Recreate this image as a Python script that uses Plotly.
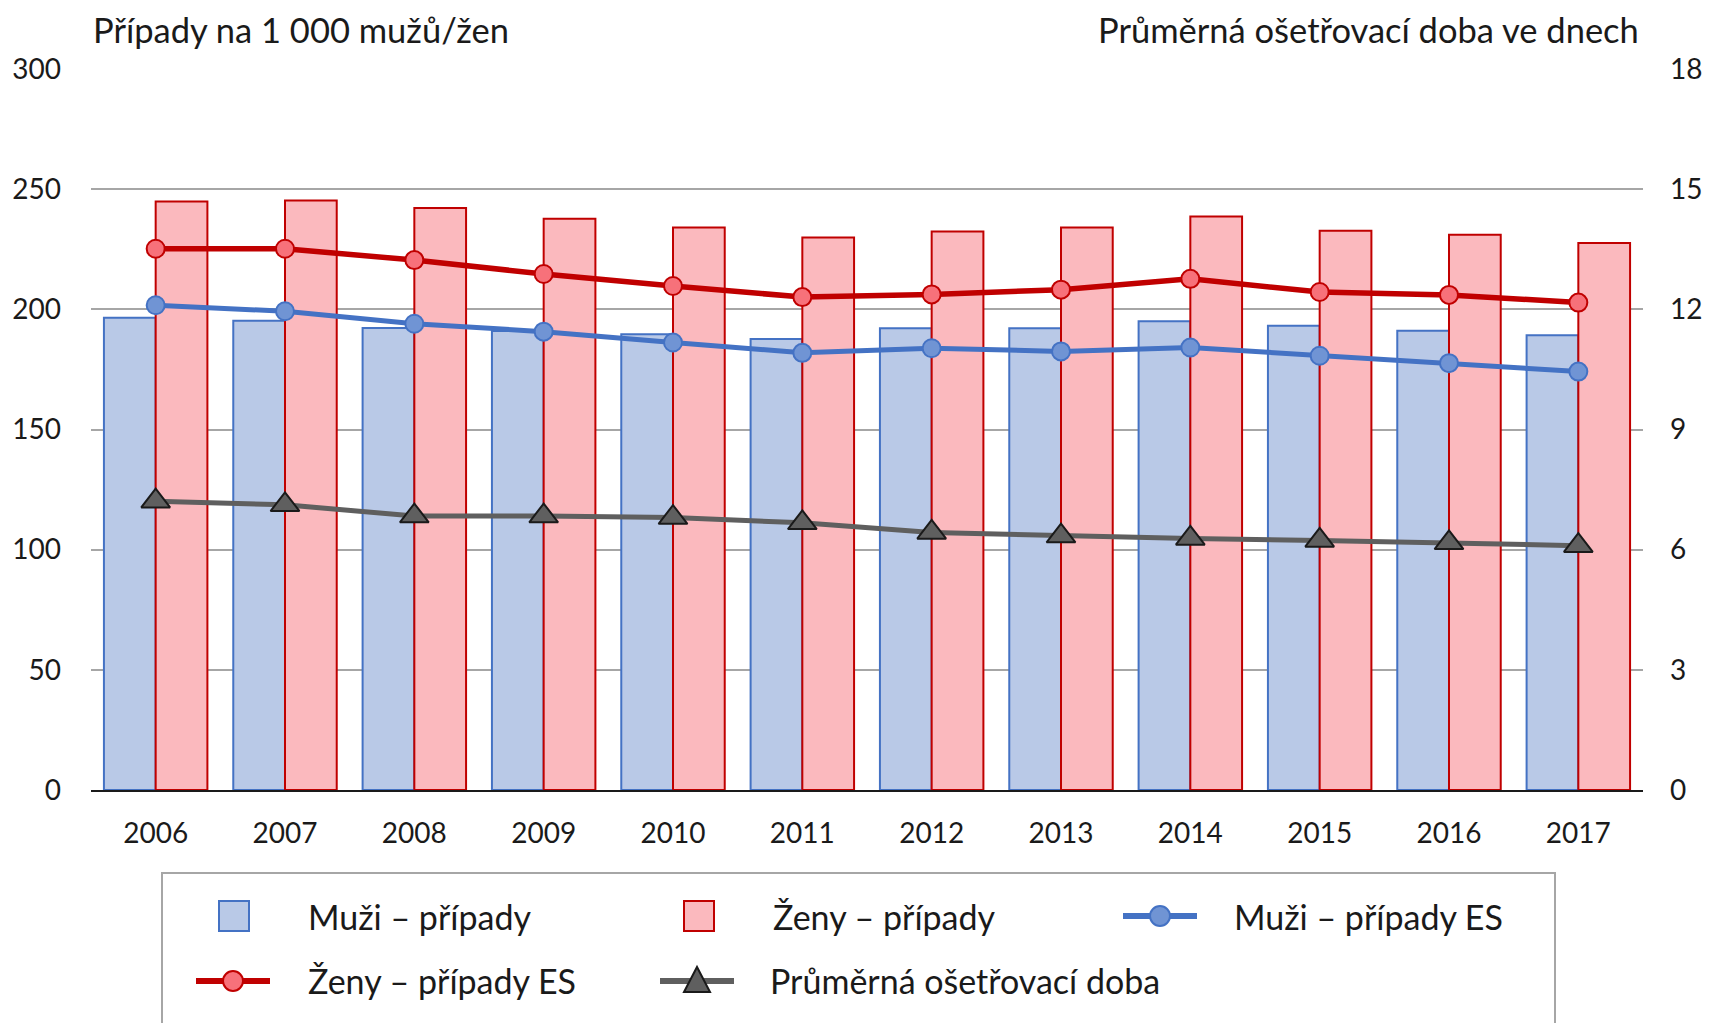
import plotly.graph_objects as go

# data
years = ['2006', '2007', '2008', '2009', '2010', '2011',
         '2012', '2013', '2014', '2015', '2016', '2017']
muzi_pripady = [196.5, 195.3, 192.2, 191.0, 189.6, 187.7, 192.1, 192.1, 195.0, 193.2, 191.1, 189.2]
zeny_pripady = [244.9, 245.3, 242.2, 237.7, 234.0, 229.9, 232.4, 234.1, 238.6, 232.7, 231.0, 227.6]
muzi_es = [201.7, 199.2, 194.0, 190.7, 186.2, 181.9, 183.8, 182.5, 184.1, 180.7, 177.6, 174.1]
zeny_es = [225.2, 225.2, 220.5, 214.7, 209.7, 205.1, 206.2, 208.2, 212.7, 207.2, 206.0, 202.8]
doba = [7.21, 7.12, 6.84, 6.84, 6.80, 6.67, 6.43, 6.34, 6.28, 6.23, 6.17, 6.10]

FONT = 'Lato'
TXT = '#1a1a1a'
W, H = 1723, 1023
OFF = 8  # the html body adds an 8px margin around the figure
ML, MR, MT, MB = 83, 88, 61, 241

BLUE, BLUE_FILL, BLUE_MK = '#4472c4', '#b9c9e7', '#7094d4'
RED, RED_FILL, RED_MK = '#c00000', '#fbb9be', '#f7717a'
GREY, DARK = '#5f5f5f', '#1a1a1a'


def px(x):
    """pixel x on the page -> paper x"""
    return (x - OFF - ML) / (W - ML - MR)


def py(y):
    """pixel y on the page -> paper y"""
    return (H - MB - (y - OFF)) / (H - MT - MB)


fig = go.Figure()

fig.add_trace(go.Bar(
    x=years, y=muzi_pripady, name='Muži – případy',
    marker=dict(color=BLUE_FILL, line=dict(color=BLUE, width=2))
))
fig.add_trace(go.Bar(
    x=years, y=zeny_pripady, name='Ženy – případy',
    marker=dict(color=RED_FILL, line=dict(color=RED, width=2))
))
fig.add_trace(go.Scatter(
    x=years, y=muzi_es, name='Muži – případy ES', mode='lines+markers',
    line=dict(color=BLUE, width=5),
    marker=dict(symbol='circle', size=18, color=BLUE_MK, line=dict(color=BLUE, width=2))
))
fig.add_trace(go.Scatter(
    x=years, y=zeny_es, name='Ženy – případy ES', mode='lines+markers',
    line=dict(color=RED, width=5.5),
    marker=dict(symbol='circle', size=18, color=RED_MK, line=dict(color=RED, width=2))
))
fig.add_trace(go.Scatter(
    x=years, y=doba, name='Průměrná ošetřovací doba', mode='lines+markers',
    yaxis='y2',
    line=dict(color=GREY, width=5),
    marker=dict(symbol='triangle-up', size=25, color=GREY, line=dict(color=DARK, width=2))
))

# legend drawn by hand (Excel style: big swatches, wide rows)
fig.add_shape(type='rect', xref='paper', yref='paper',
              x0=px(162), x1=px(1555), y0=py(1200), y1=py(873),
              line=dict(color='#a6a6a6', width=2), fillcolor='rgba(0,0,0,0)')


def anchored(**kw):
    return dict(xref='paper', yref='paper', xsizemode='pixel', ysizemode='pixel', **kw)


def legend_box(cx, cy, fill, edge):
    fig.add_shape(type='rect', **anchored(xanchor=px(cx), yanchor=py(cy)),
                  x0=-15, x1=15, y0=-15, y1=15, fillcolor=fill, line=dict(color=edge, width=2))


def legend_line(cx, cy, color, marker, fill, edge):
    fig.add_shape(type='line', **anchored(xanchor=px(cx), yanchor=py(cy)),
                  x0=-37, x1=37, y0=0, y1=0, line=dict(color=color, width=6))
    if marker == 'circle':
        fig.add_shape(type='circle', **anchored(xanchor=px(cx), yanchor=py(cy)),
                      x0=-10, x1=10, y0=-10, y1=10, fillcolor=fill, line=dict(color=edge, width=2))
    else:
        fig.add_shape(type='path', **anchored(xanchor=px(cx), yanchor=py(cy)),
                      path='M -13,-11 L 13,-11 L 0,14 Z', fillcolor=fill, line=dict(color=edge, width=2))


def legend_text(x, cy, text):
    fig.add_annotation(text=text, xref='paper', yref='paper', x=px(x), y=py(cy),
                       xanchor='left', yanchor='middle', showarrow=False,
                       font=dict(size=34, color=TXT, family=FONT))


legend_box(234, 916, BLUE_FILL, BLUE)
legend_text(306, 916, 'Muži – případy')
legend_box(699, 916, RED_FILL, RED)
legend_text(771, 916, 'Ženy – případy')
legend_line(1160, 916, BLUE, 'circle', BLUE_MK, BLUE)
legend_text(1232, 916, 'Muži – případy ES')
legend_line(233, 981, RED, 'circle', RED_MK, RED)
legend_text(306, 981, 'Ženy – případy ES')
legend_line(697, 981, GREY, 'triangle', GREY, DARK)
legend_text(768, 981, 'Průměrná ošetřovací doba')

# axis titles above the plot, hung from the top edge of the figure
fig.add_annotation(text='Případy na 1 000 mužů/žen', xref='paper', yref='paper',
                   x=px(92), y=py(OFF), xanchor='left', yanchor='top', showarrow=False,
                   borderpad=0, font=dict(size=34.5, color=TXT, family=FONT))
fig.add_annotation(text='Průměrná ošetřovací doba ve dnech', xref='paper', yref='paper',
                   x=px(1640), y=py(OFF), xanchor='right', yanchor='top', showarrow=False,
                   borderpad=0, font=dict(size=34.5, color=TXT, family=FONT))

fig.update_layout(
    width=W, height=H,
    margin=dict(l=ML, r=MR, t=MT, b=MB, autoexpand=False),
    paper_bgcolor='white', plot_bgcolor='white',
    font=dict(family=FONT, size=28, color=TXT),
    barmode='group', bargap=0.2, bargroupgap=0,
    showlegend=False,
    xaxis=dict(
        type='category', range=[-0.5, len(years) - 0.5],
        showgrid=False, showline=True, linecolor=DARK,
        linewidth=2, ticks='', ticklabelstandoff=17, automargin=False
    ),
    yaxis=dict(
        range=[0, 300], tickvals=[0, 50, 100, 150, 200, 250, 300],
        showgrid=True, gridcolor='#a6a6a6', gridwidth=2, zeroline=False,
        showline=False, ticks='', ticklabelstandoff=29, automargin=False
    ),
    yaxis2=dict(
        range=[0, 18], tickvals=[0, 3, 6, 9, 12, 15, 18],
        overlaying='y', side='right', showgrid=False, zeroline=False,
        showline=False, ticks='', ticklabelstandoff=26, automargin=False
    ),
)

fig.write_html('out.html')
